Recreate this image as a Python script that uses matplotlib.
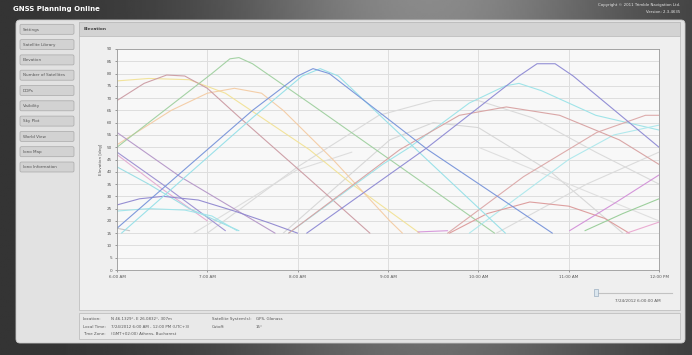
import numpy as np
import matplotlib
matplotlib.use("Agg")
import matplotlib.pyplot as plt
from matplotlib.patches import FancyBboxPatch, Rectangle

# ---------------- data (time of day in hours, elevation in degrees) ----------------
hour_ticks = [6, 7, 8, 9, 10, 11, 12]
hour_labels = ["6:00 AM", "7:00 AM", "8:00 AM", "9:00 AM", "10:00 AM", "11:00 AM", "12:00 PM"]
elev_ticks = list(range(0, 95, 5))

trk_blue = [(6.00, 17), (7.50, 65), (8.00, 79), (8.17, 82), (8.35, 80), (9.44, 49), (10.82, 15)]
trk_cyan = [(6.05, 15), (7.50, 62), (8.05, 79), (8.25, 82), (8.45, 79), (9.43, 45), (10.30, 15)]
trk_purple_hi = [(8.10, 15), (9.44, 50), (10.45, 79), (10.65, 84), (10.85, 84), (11.05, 79), (12.00, 50)]
trk_green = [(6.00, 50), (7.05, 80), (7.25, 86), (7.35, 86.5), (7.50, 84), (8.13, 68), (10.18, 15)]
trk_mauve = [(6.00, 69), (6.30, 76), (6.55, 79.4), (6.75, 79), (7.00, 74), (7.36, 62), (8.10, 38), (8.80, 15)]
trk_yellow = [(6.00, 77), (6.35, 78), (6.80, 77.5), (7.20, 72), (8.13, 49), (8.60, 35), (9.35, 15)]
trk_orange = [(6.00, 51), (6.60, 65), (7.00, 72), (7.30, 74), (7.60, 72), (7.84, 65), (8.39, 45), (9.02, 20), (9.16, 15)]
trk_mauve_lo = [(6.00, 56), (6.70, 38), (7.75, 15)]
trk_violet_lo = [(6.00, 48), (6.50, 35), (7.20, 16)]
trk_pink_lo = [(6.00, 47), (6.50, 33), (7.00, 20)]
trk_cyan_lo = [(6.00, 42), (6.35, 35), (6.80, 25), (7.35, 16)]
trk_purple_arc = [(6.00, 26.5), (6.25, 29), (6.51, 30), (6.90, 28.5), (7.30, 24), (7.70, 19), (8.00, 15)]
trk_cyan_arc = [(6.00, 24), (6.35, 25), (6.75, 24.4), (7.05, 22), (7.33, 16)]
trk_cyan2 = [(7.90, 15), (8.94, 43), (9.24, 50), (9.90, 68), (10.30, 75), (10.45, 76), (10.70, 73), (11.30, 63), (12.00, 57)]
trk_cyan3 = [(9.90, 15), (11.00, 45), (11.50, 55), (12.00, 59)]
trk_red = [(7.90, 15), (9.13, 49), (9.79, 63), (10.31, 66.4), (10.90, 63), (11.56, 53), (12.00, 43)]
trk_red_arc = [(9.68, 15), (10.10, 23), (10.57, 27.7), (11.00, 26), (11.40, 21), (11.67, 15)]
trk_red_rise = [(9.66, 15), (10.50, 38), (11.31, 56), (11.85, 63), (12.00, 63)]
trk_magenta_flat = [(9.33, 15.5), (9.66, 16)]
trk_magenta_rise = [(11.01, 16), (11.50, 27), (12.00, 38.7)]
trk_green_rise = [(11.18, 16), (11.60, 23), (12.00, 29)]
trk_pink_rise = [(11.64, 15), (12.00, 19.5)]
trk_gray_arc = [(7.00, 15), (8.00, 42), (8.90, 63), (9.50, 69), (10.00, 69), (10.60, 62), (11.30, 48), (12.00, 35)]
trk_gray_mid = [(7.84, 15), (9.02, 53), (9.50, 60), (10.00, 58), (10.80, 40), (11.60, 15)]
trk_gray_rise = [(10.20, 15), (11.20, 35), (12.00, 48)]
trk_gray_desc = [(10.00, 50), (11.00, 35), (12.00, 20)]
trk_gray_short = [(6.00, 17), (6.14, 16)]
trk_gray_lo = [(6.85, 15), (7.99, 40.7), (8.60, 48)]

tracks = [trk_gray_arc, trk_gray_mid, trk_gray_rise, trk_gray_desc, trk_gray_short, trk_gray_lo,
          trk_yellow, trk_orange, trk_mauve, trk_green, trk_mauve_lo, trk_violet_lo, trk_pink_lo,
          trk_cyan_lo, trk_purple_arc, trk_cyan_arc, trk_cyan2, trk_cyan3, trk_red, trk_red_arc,
          trk_red_rise, trk_magenta_flat, trk_magenta_rise, trk_green_rise, trk_pink_rise,
          trk_cyan, trk_blue, trk_purple_hi]
colors = ["#d9d9d9", "#d6d6d6", "#dadada", "#dedede", "#c4c4c4", "#dcdcdc",
          "#f2e296", "#f4cca4", "#cc9ca4", "#a0d0a0", "#b597c8", "#9c8fd2", "#e4acd2",
          "#98dde4", "#9088d0", "#a0e4ea", "#9be3e8", "#ade8ec", "#d8a2a2", "#dc9a9a",
          "#dca8a8", "#d595da", "#d290d8", "#98cd98", "#eaa8d0",
          "#96e0e8", "#7894da", "#8e8ad4"]

sidebar_items = ["Settings", "Satellite Library", "Elevation", "Number of Satellites", "DOPs",
                 "Visibility", "Sky Plot", "World View", "Iono Map", "Iono Information"]

# ---------------- figure ----------------
W, H = 692, 355
fig = plt.figure(figsize=(W / 100, H / 100), dpi=100)
bg = fig.add_axes([0, 0, 1, 1])
bg.set_xlim(0, W)
bg.set_ylim(H, 0)
bg.axis("off")

xx = np.linspace(0, W, 300)
yy = np.linspace(0, H, 150)
X, Y = np.meshgrid(xx, yy)
val = 0.20 + 0.34 * np.exp(-((X - 430) / 210) ** 2) * (1 - 0.35 * Y / H)
bg.imshow(val, extent=[0, W, H, 0], cmap="gray", vmin=0, vmax=1, aspect="auto", zorder=0)

bg.text(13, 9.5, "GNSS Planning Online", color="white", fontsize=5.0, fontweight="bold",
        va="center", ha="left", zorder=5)
bg.text(680, 5, "Copyright \u00a9 2011 Trimble Navigation Ltd.", color="#e8e8e8", fontsize=2.8,
        va="center", ha="right", zorder=5)
bg.text(680, 12, "Version: 2.3.4635", color="#e8e8e8", fontsize=2.8, va="center", ha="right", zorder=5)

# outer panel
bg.add_patch(FancyBboxPatch((16, 20), 669, 323, boxstyle="round,pad=0,rounding_size=4",
                            fc="#e2e2e2", ec="#c8c8c8", lw=0.6, zorder=1))
# sidebar buttons
for i, name in enumerate(sidebar_items):
    y0 = 24.3 + i * 15.3
    bg.add_patch(FancyBboxPatch((20, y0), 54, 10, boxstyle="round,pad=0,rounding_size=1.5",
                                fc="#d2d2d2", ec="#a9a9a9", lw=0.5, zorder=2))
    bg.text(23, y0 + 5.2, name, fontsize=3.0, color="#555555", va="center", ha="left", zorder=3)

# chart panel
bg.add_patch(Rectangle((79, 22), 601, 288, fc="#efefef", ec="#b8b8b8", lw=0.5, zorder=1.5))
bg.add_patch(Rectangle((79, 22), 601, 14, fc="#d3d3d3", ec="#b8b8b8", lw=0.5, zorder=1.6))
bg.text(84, 29.5, "Elevation", fontsize=3.2, fontweight="bold", color="#444444",
        va="center", ha="left", zorder=3)

# slider
bg.plot([597, 672], [293, 293], color="#c2c2c2", lw=0.8, zorder=3)
bg.add_patch(Rectangle((594, 289), 3.5, 7, fc="#dbe6ee", ec="#8aa0b5", lw=0.4, zorder=4))
bg.text(638, 301.5, "7/24/2012 6:00:00 AM", fontsize=3.0, color="#555555", va="center",
        ha="center", zorder=4)

# info panel
bg.add_patch(Rectangle((79, 313), 601, 26, fc="#e9e9e9", ec="#b8b8b8", lw=0.5, zorder=1.5))
info_rows = [("Location:", "N 46.1329\u00b0, E 26.0832\u00b0, 307m", "Satellite System(s):", "GPS, Glonass"),
             ("Local Time:", "7/24/2012 6:00 AM - 12:00 PM (UTC+3)", "Cutoff:", "15\u00b0"),
             ("Time Zone:", "(GMT+02:00) Athens, Bucharest", "", "")]
for r, (a, b, c, d) in enumerate(info_rows):
    yv = 319 + r * 7.6
    bg.text(83, yv, a, fontsize=2.9, color="#555555", va="center", ha="left", zorder=3)
    bg.text(111, yv, b, fontsize=2.9, color="#555555", va="center", ha="left", zorder=3)
    bg.text(212, yv, c, fontsize=2.9, color="#555555", va="center", ha="left", zorder=3)
    bg.text(256, yv, d, fontsize=2.9, color="#555555", va="center", ha="left", zorder=3)

# ---------------- chart ----------------
left, right, top, bottom = 117, 659, 49, 270
ax = fig.add_axes([left / W, 1 - bottom / H, (right - left) / W, (bottom - top) / H])
ax.set_facecolor("#f8f8f8")
ax.set_xlim(6, 12)
ax.set_ylim(0, 90)
ax.set_xticks(hour_ticks)
ax.set_xticklabels(hour_labels)
ax.set_yticks(elev_ticks)
ax.tick_params(labelsize=3.0, colors="#555555", length=1.5, width=0.4, pad=2)
ax.grid(True, axis="y", color="#dedede", lw=0.7)
ax.grid(True, axis="x", color="#d4d4d4", lw=0.5)
ax.set_axisbelow(True)
for s in ax.spines.values():
    s.set_color("#9a9a9a")
    s.set_linewidth(0.6)
ax.set_ylabel("Elevation [deg]", fontsize=3.0, color="#555555", labelpad=3)

for trk, col in zip(tracks, colors):
    t = [p[0] for p in trk]
    e = [p[1] for p in trk]
    ax.plot(t, e, color=col, lw=0.8, alpha=0.95, solid_capstyle="round")

fig.savefig("out.png", dpi=100)
